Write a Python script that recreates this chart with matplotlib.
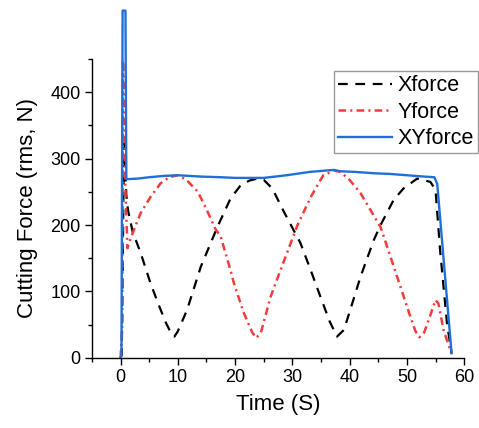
import matplotlib as mpl
mpl.use('Agg')
import matplotlib.pyplot as plt
from matplotlib.ticker import MultipleLocator

#
#--- rms cutting force readings (time in s, force in N)
#
x_time  = [0, 0.2, 0.6, 1.0, 1.3, 2.1, 3.5, 5.2, 6.5, 7.9, 9.0, 9.4, 10.0, 11.6, 14.0,
           16.9, 19.2, 20.9, 22.5, 23.9, 25.0, 26.5, 28.4, 31.4, 33.2, 34.9, 36.5, 37.8,
           39.0, 40.1, 41.9, 44.2, 45.4, 47.7, 49.4, 51.8, 54.1, 55.0, 55.8, 57.0, 57.8]
x_force = [0, 5, 323, 245, 222, 190, 158, 113, 83, 53, 34, 32, 40, 72, 137,
           197, 240, 259, 267, 270, 268, 255, 222, 173, 132, 92, 55, 32,
           42, 72, 122, 177, 200, 238, 255, 270, 265, 253, 162, 52, 7]

y_time  = [0, 0.3, 0.4, 0.85, 1.2, 1.75, 2.3, 3.5, 5.2, 7.0, 8.5, 10.0, 11.5, 13.5, 15.2,
           16.5, 17.5, 19.2, 19.8, 21.5, 23.0, 23.7, 24.5, 26.2, 28.4, 30.9, 33.2, 35.4,
           37.3, 38.4, 40.0, 41.9, 45.4, 48.3, 50.6, 51.5, 52.2, 53.0, 53.6, 55.0, 55.5,
           56.4, 57.8]
y_force = [0, 50, 480, 250, 165, 180, 192, 218, 242, 263, 272, 275, 268, 250, 220,
           195, 182, 132, 112, 68, 38, 30, 38, 92, 143, 200, 242, 275,
           282, 280, 268, 248, 197, 122, 62, 40, 31, 38, 52, 87, 82,
           42, 6]

xy_time  = [0, 0.15, 0.35, 0.85, 1.0, 3.0, 5.0, 7.5, 10.0, 12.0, 14.0, 17.5, 20.0, 22.5,
            25.0, 29.0, 33.0, 37.2, 38.4, 41.0, 44.2, 47.0, 50.0, 53.0, 54.8, 55.3, 57.8]
xy_force = [0, 3, 523, 523, 269, 270, 272, 274, 275, 274, 273, 272, 271, 271,
            271, 275, 280, 283, 281, 280, 278, 277, 275, 273, 272, 262, 7]

labels = ['Xforce', 'Yforce', 'XYforce']

#
#--- general plotting params
#
plt.rcParams['font.family'] = ['Liberation Sans', 'DejaVu Sans']
plt.rcParams['lines.scale_dashes'] = False

fig = plt.figure(figsize=(4.79, 4.28), dpi=100)
ax  = fig.add_axes([0.192, 0.164, 0.777, 0.698])

#
#--- force traces
#
ax.plot(x_time, x_force, color='black', lw=1.6, linestyle=(0, (7, 5.5)), label=labels[0])
ax.plot(y_time, y_force, color='#f23c3c', lw=1.8,
        linestyle=(0, (5.5, 3, 1.5, 3)), label=labels[1])
ax.plot(xy_time, xy_force, color='#1f6fd8', lw=1.7, label=labels[2], clip_on=False)

#
#--- axes range, ticks and spines
#
ax.set_xlim(-5, 60)
ax.set_ylim(0, 450)
ax.xaxis.set_major_locator(MultipleLocator(10))
ax.xaxis.set_minor_locator(MultipleLocator(5))
ax.yaxis.set_major_locator(MultipleLocator(100))
ax.yaxis.set_minor_locator(MultipleLocator(50))
ax.tick_params(which='major', direction='out', length=5, width=1, labelsize=13, pad=3)
ax.tick_params(which='minor', direction='out', length=3, width=1)

for side in ['top', 'right']:
    ax.spines[side].set_visible(False)
for side in ['left', 'bottom']:
    ax.spines[side].set_linewidth(1)

ax.set_xlabel('Time (S)', fontsize=16, labelpad=6)
ax.set_ylabel('Cutting Force (rms, N)', fontsize=16, labelpad=9)

#
#--- legend box at the upper right
#
leg = ax.legend(loc='upper right', bbox_to_anchor=(478 / 479, 1 - 71 / 428),
                bbox_transform=fig.transFigure, fontsize=15.5, fancybox=False,
                borderaxespad=0, borderpad=0.2, handlelength=2.5, handletextpad=0.25,
                labelspacing=0.25, framealpha=1)
leg.get_frame().set_edgecolor('#999999')
leg.get_frame().set_linewidth(1)

plt.savefig('out.png', dpi=100)
plt.close('all')
